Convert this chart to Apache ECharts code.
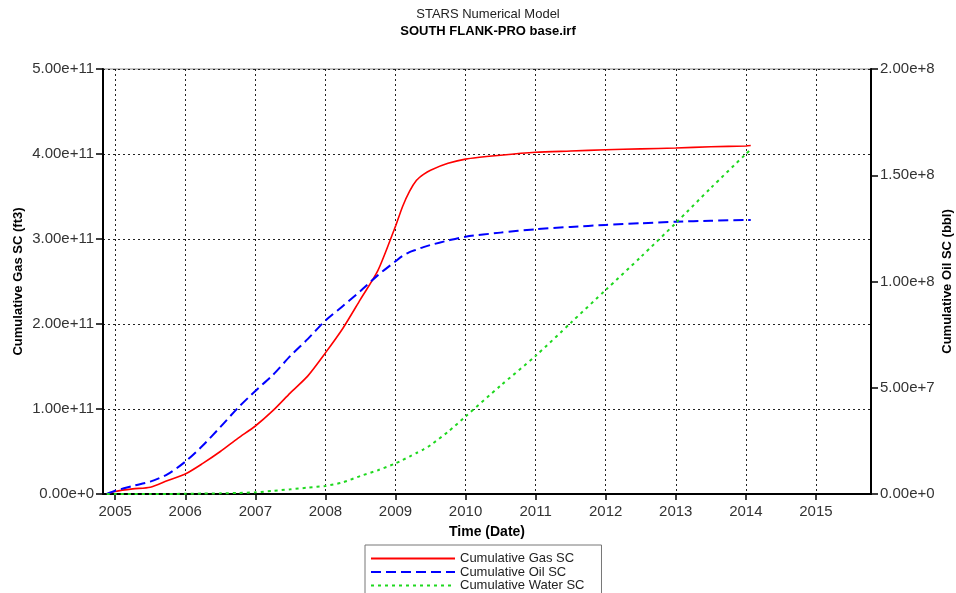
<!DOCTYPE html>
<html>
<head>
<meta charset="utf-8">
<script src="https://cdn.jsdelivr.net/npm/echarts@6/dist/echarts.min.js"></script>
<style>
  html, body { margin: 0; padding: 0; background: #fff; }
  #chart { width: 956px; height: 593px; }
</style>
</head>
<body>
<div id="chart"></div>
<script>
// Simulation output times, in decimal years
var times = [2004.88, 2005.0, 2005.25, 2005.5, 2005.75, 2006.0, 2006.25, 2006.5, 2006.75,
  2007.0, 2007.25, 2007.5, 2007.75, 2008.0, 2008.25, 2008.5, 2008.75, 2009.0, 2009.1,
  2009.2, 2009.3, 2009.4, 2009.5, 2009.75, 2010.0, 2010.5, 2011.0, 2011.5, 2012.0,
  2012.5, 2013.0, 2013.5, 2014.0, 2014.07];

// Cumulative gas at surface conditions (ft3)
var gasSC = [0, 3e9, 6e9, 8e9, 1.6e10, 2.35e10, 3.6e10, 5.0e10, 6.55e10,
  8.0e10, 9.8e10, 1.19e11, 1.39e11, 1.66e11, 1.95e11, 2.29e11, 2.63e11, 3.15e11, 3.38e11,
  3.56e11, 3.69e11, 3.76e11, 3.81e11, 3.89e11, 3.94e11, 3.985e11, 4.02e11, 4.035e11, 4.05e11,
  4.06e11, 4.07e11, 4.085e11, 4.095e11, 4.10e11];

// Cumulative oil at surface conditions (bbl)
var oilSC = [0, 1.5e6, 3.8e6, 5.8e6, 9.3e6, 1.52e7, 2.28e7, 3.15e7, 4.05e7,
  4.85e7, 5.6e7, 6.5e7, 7.3e7, 8.16e7, 8.85e7, 9.55e7, 1.03e8, 1.095e8, 1.12e8,
  1.138e8, 1.15e8, 1.162e8, 1.172e8, 1.193e8, 1.211e8, 1.23e8, 1.246e8, 1.257e8, 1.266e8,
  1.274e8, 1.281e8, 1.286e8, 1.289e8, 1.289e8];

// Cumulative water at surface conditions (bbl)
var waterSC = [0, 0, 0, 0, 0, 1e5, 2e5, 3e5, 5e5,
  8e5, 1.5e6, 2.2e6, 3.0e6, 3.8e6, 5.5e6, 8.5e6, 1.12e7, 1.44e7, 1.6e7,
  1.76e7, 1.93e7, 2.1e7, 2.3e7, 2.93e7, 3.65e7, 5.1e7, 6.5e7, 8.05e7, 9.6e7,
  1.115e8, 1.275e8, 1.44e8, 1.60e8, 1.62e8];

var yearTicks = [2005, 2006, 2007, 2008, 2009, 2010, 2011, 2012, 2013, 2014, 2015];
var seriesNames = ['Cumulative Gas SC', 'Cumulative Oil SC', 'Cumulative Water SC'];

function pairs(xs, ys) {
  return xs.map(function (x, i) { return [x, ys[i]]; });
}

// Scientific label such as 5.00e+11 or 0.00e+0
function sciLabel(v) {
  if (v === 0) return '0.00e+0';
  var e = Math.floor(Math.log10(Math.abs(v)) + 1e-9);
  var m = v / Math.pow(10, e);
  return m.toFixed(2) + 'e+' + e;
}

var FONT = '"Liberation Sans", Arial, sans-serif';
var gridDots = { show: true, lineStyle: { color: '#222', width: 1, type: [2, 3] } };

var chart = echarts.init(document.getElementById('chart'), null, { renderer: 'canvas' });
chart.setOption({
  animation: false,
  backgroundColor: '#fff',
  title: [
    { text: 'STARS Numerical Model', left: 483, top: 3, textAlign: 'center',
      textStyle: { fontFamily: FONT, fontSize: 13, fontWeight: 'normal', color: '#222' } },
    { text: 'SOUTH FLANK-PRO base.irf', left: 483, top: 20, textAlign: 'center',
      textStyle: { fontFamily: FONT, fontSize: 13, fontWeight: 'bold', color: '#000' } }
  ],
  grid: { left: 103, right: 85, top: 69, bottom: 99, show: true,
    borderColor: '#888', borderWidth: 1, backgroundColor: 'transparent',
    outerBoundsMode: 'none', containLabel: false },
  legend: {
    orient: 'vertical', left: 365, top: 545, height: 80,
    data: seriesNames,
    itemWidth: 84, itemHeight: 12, itemGap: 0.5,
    itemStyle: { opacity: 0 },
    borderColor: '#777', borderWidth: 1, padding: [7, 17, 8, 5],
    textStyle: { fontFamily: FONT, fontSize: 13, color: '#222', lineHeight: 12 }
  },
  xAxis: {
    type: 'value', min: 2004.826, max: 2015.786,
    name: 'Time (Date)', nameLocation: 'middle', nameGap: 31,
    nameTextStyle: { fontFamily: FONT, fontSize: 14, fontWeight: 'bold', color: '#000' },
    axisLine: { lineStyle: { color: '#000', width: 2 } },
    axisTick: { show: true, length: 6, customValues: yearTicks, lineStyle: { color: '#000', width: 1.5 } },
    axisLabel: { customValues: yearTicks, margin: 10, fontFamily: FONT, fontSize: 15, color: '#333',
      formatter: function (v) { return String(Math.round(v)); } },
    splitLine: gridDots
  },
  yAxis: [
    { type: 'value', min: 0, max: 5e11, interval: 1e11, position: 'left',
      name: 'Cumulative Gas SC (ft3)', nameLocation: 'middle', nameGap: 78, nameRotate: 90,
      nameMoveOverlap: false,
      nameTextStyle: { fontFamily: FONT, fontSize: 13, fontWeight: 'bold', color: '#000' },
      axisLine: { show: true, lineStyle: { color: '#000', width: 2 } },
      axisTick: { show: true, length: 7, lineStyle: { color: '#000', width: 1.5 } },
      axisLabel: { margin: 9, fontFamily: FONT, fontSize: 15, color: '#333', formatter: sciLabel },
      splitLine: gridDots },
    { type: 'value', min: 0, max: 2e8, interval: 5e7, position: 'right',
      name: 'Cumulative Oil SC (bbl)', nameLocation: 'middle', nameGap: 70, nameRotate: 90,
      nameMoveOverlap: false,
      nameTextStyle: { fontFamily: FONT, fontSize: 13, fontWeight: 'bold', color: '#000' },
      axisLine: { show: true, lineStyle: { color: '#000', width: 2 } },
      axisTick: { show: true, length: 7, lineStyle: { color: '#000', width: 1.5 } },
      axisLabel: { margin: 9, fontFamily: FONT, fontSize: 15, color: '#333', formatter: sciLabel },
      splitLine: { show: false } }
  ],
  series: [
    { name: seriesNames[0], type: 'line', yAxisIndex: 0, symbol: 'none', smooth: 0.25,
      data: pairs(times, gasSC), color: '#ff0000',
      lineStyle: { color: '#ff0000', width: 1.6 } },
    { name: seriesNames[1], type: 'line', yAxisIndex: 1, symbol: 'none', smooth: 0.25,
      data: pairs(times, oilSC), color: '#0000ff',
      lineStyle: { color: '#0000ff', width: 2, type: [10, 5] } },
    { name: seriesNames[2], type: 'line', yAxisIndex: 1, symbol: 'none', smooth: 0.25,
      data: pairs(times, waterSC), color: '#1fd81f',
      lineStyle: { color: '#1fd81f', width: 2, type: [3, 4] } }
  ]
});
</script>
</body>
</html>
